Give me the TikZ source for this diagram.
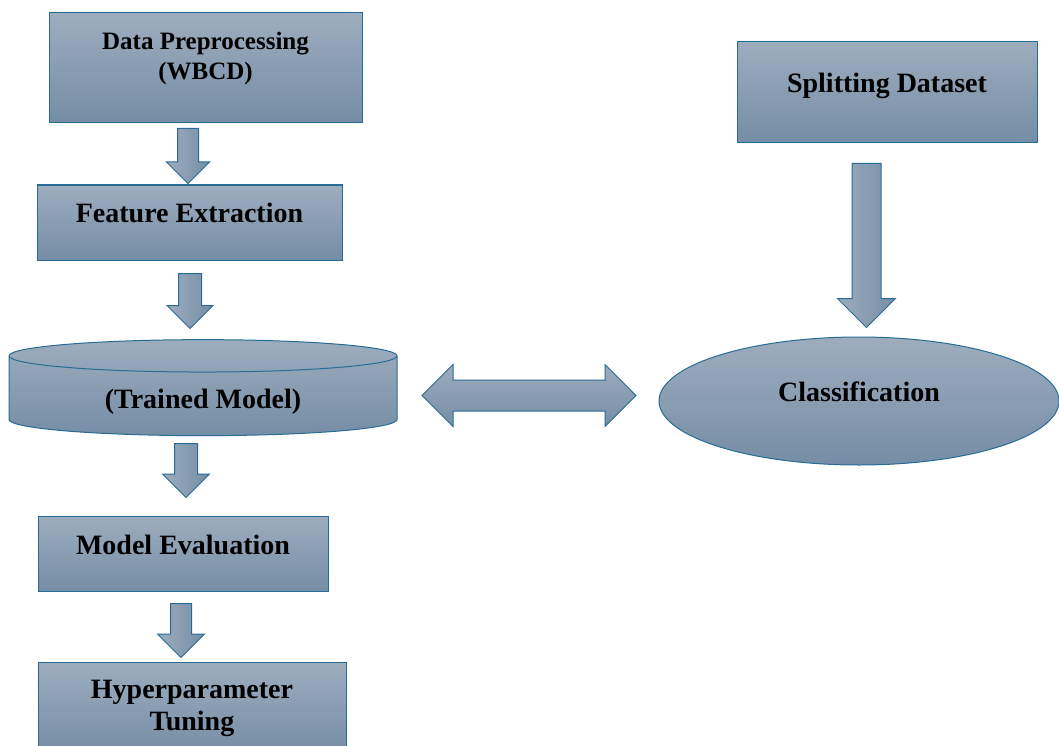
\documentclass[tikz,border=0pt]{standalone}
\usepackage{fontspec}
\setmainfont{Liberation Serif}
\usetikzlibrary{shapes.geometric, shapes.arrows}

\definecolor{boxtop}{RGB}{157,173,190}
\definecolor{boxbot}{RGB}{117,141,166}
\definecolor{boxline}{RGB}{40,108,150}

\begin{document}
\begin{tikzpicture}[
    x=1pt, y=-1pt,
    box/.style={draw=boxline, line width=1pt, top color=boxtop, bottom color=boxbot, align=center, inner sep=0pt, font=\bfseries\fontsize{28}{32}\selectfont},
    onerow/.style={text height=20pt, text depth=20pt},
    store/.style={box, cylinder, shape border rotate=90, aspect=0.165},
    oval/.style={box, onerow, ellipse},
    downarr/.style={single arrow, rotate=-90, anchor=tail, draw=boxline, line width=1pt, top color=boxtop, bottom color=boxbot, shading angle=90, inner xsep=0pt},
    botharr/.style={double arrow, draw=boxline, line width=1pt, top color=boxtop, bottom color=boxbot, inner xsep=0pt, inner ysep=15pt, double arrow head extend=15.5pt}
]
\useasboundingbox (0,0) rectangle (1059,746);

% left column
\node[box, minimum width=313pt, minimum height=110pt, text depth=25pt, font=\bfseries\fontsize{25}{30}\selectfont] (prep) at (205.5,68) {Data Preprocessing\\(WBCD)};
\node[box, onerow, minimum width=305pt, minimum height=75pt] (feat) at (189.5,222.5) {Feature Extraction};
\node[store, minimum width=388pt, minimum height=96pt, text height=27pt, text depth=2pt] (model) at (203,396) {(Trained Model)};
\node[box, onerow, minimum width=290pt, minimum height=75pt] (eval) at (183,554) {Model Evaluation};
\node[box, minimum width=308pt, minimum height=92pt] (tune) at (192,708) {Hyperparameter\\Tuning};

% right column
\node[box, onerow, minimum width=300pt, minimum height=101pt] (split) at (887,92.5) {Splitting Dataset};
\node[oval, minimum width=400pt, minimum height=128pt] (cls) at (859,401) {Classification};

% block arrows (tail at the top)
\node[downarr, minimum height=55pt, minimum width=42pt, inner ysep=10pt, single arrow head extend=11pt] (ar1) at (188,128) {};
\node[downarr, minimum height=55pt, minimum width=45pt, inner ysep=11pt, single arrow head extend=11.5pt] (ar2) at (190,273) {};
\node[downarr, minimum height=54pt, minimum width=46pt, inner ysep=11pt, single arrow head extend=12pt] (ar3) at (186,443) {};
\node[downarr, minimum height=54pt, minimum width=46pt, inner ysep=10pt, single arrow head extend=13pt] (ar4) at (181,603) {};
\node[downarr, minimum height=164pt, minimum width=57pt, inner ysep=14pt, single arrow head extend=14.5pt] (ar5) at (866.5,163) {};
\node[botharr, minimum height=214pt, minimum width=61pt] (link) at (529,395.5) {};
\end{tikzpicture}
\end{document}
